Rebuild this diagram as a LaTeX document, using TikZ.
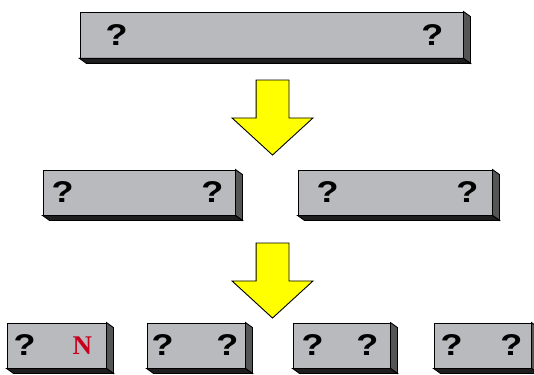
\documentclass[tikz,border=0pt]{standalone}
\usepackage{fontspec}
\setsansfont{Liberation Sans}
\setmainfont{Liberation Serif}
\usetikzlibrary{shapes.arrows}

\definecolor{boxgray}{RGB}{184,186,189}
\definecolor{sidegray}{RGB}{85,85,85}
\definecolor{basegray}{RGB}{30,30,30}
\definecolor{arrowyellow}{RGB}{255,255,0}
\definecolor{markred}{RGB}{200,0,30}
\newcommand{\qm}{\scalebox{1.2}[1]{?}}

\begin{document}
\begin{tikzpicture}[x=1pt, y=-1pt, line width=0.9pt,
  box/.style = {draw, fill=boxgray, minimum height=45pt, inner sep=0pt},
  qmark/.style = {font=\sffamily\bfseries\fontsize{30}{30}\selectfont, inner sep=0pt},
  nmark/.style = {font=\rmfamily\bfseries\fontsize{27}{27}\selectfont, text=markred, inner sep=0pt},
  downarrow/.style = {single arrow, draw, fill=arrowyellow, rotate=-90, minimum height=75pt,
    inner xsep=0pt, inner ysep=16pt, text height=0pt, text depth=0pt,
    single arrow head extend=24pt, single arrow tip angle=95}]
\useasboundingbox (0,0) rectangle (534,374);

% boxes
\node[box, minimum width=383pt, minimum height=46pt] (top) at (271.5, 35) {};
\node[box, minimum width=192pt] (mid_l) at (139, 192.5) {};
\node[box, minimum width=194pt] (mid_r) at (395, 192.5) {};
\node[box, minimum width=99pt] (bot_a) at (56.5, 345.5) {};
\node[box, minimum width=98pt] (bot_b) at (196, 345.5) {};
\node[box, minimum width=97pt] (bot_c) at (341.5, 345.5) {};
\node[box, minimum width=97pt] (bot_d) at (482.5, 345.5) {};

% raised edges
\foreach \n in {top, mid_l, mid_r, bot_a, bot_b, bot_c, bot_d} {
  \draw[fill=sidegray] (\n.north east) -- ++(7,5) -- ([shift={(7,5)}]\n.south east) -- (\n.south east) -- cycle;
  \draw[fill=basegray] (\n.south west) -- ++(7,5) -- ([shift={(7,5)}]\n.south east) -- (\n.south east) -- cycle;
}

% marks
\node[qmark] (top_l) at ([xshift=37]top.west) {\qm};
\node[qmark] (top_r) at ([xshift=-31]top.east) {\qm};
\node[qmark] (mid_l_l) at ([xshift=20]mid_l.west) {\qm};
\node[qmark] (mid_l_r) at ([xshift=-23]mid_l.east) {\qm};
\node[qmark] (mid_r_l) at ([xshift=30]mid_r.west) {\qm};
\node[qmark] (mid_r_r) at ([xshift=-25]mid_r.east) {\qm};
\node[qmark] (bot_a_l) at ([xshift=18]bot_a.west) {\qm};
\node[nmark] (bot_a_r) at ([xshift=-24]bot_a.east) {N};
\node[qmark] (bot_b_l) at ([xshift=16]bot_b.west) {\qm};
\node[qmark] (bot_b_r) at ([xshift=-18]bot_b.east) {\qm};
\node[qmark] (bot_c_l) at ([xshift=20]bot_c.west) {\qm};
\node[qmark] (bot_c_r) at ([xshift=-23]bot_c.east) {\qm};
\node[qmark] (bot_d_l) at ([xshift=18]bot_d.west) {\qm};
\node[qmark] (bot_d_r) at ([xshift=-20]bot_d.east) {\qm};

% arrows
\node[downarrow] (split_a) at (272.5, 110) {};
\node[downarrow] (split_b) at (272.5, 273) {};
\end{tikzpicture}
\end{document}
